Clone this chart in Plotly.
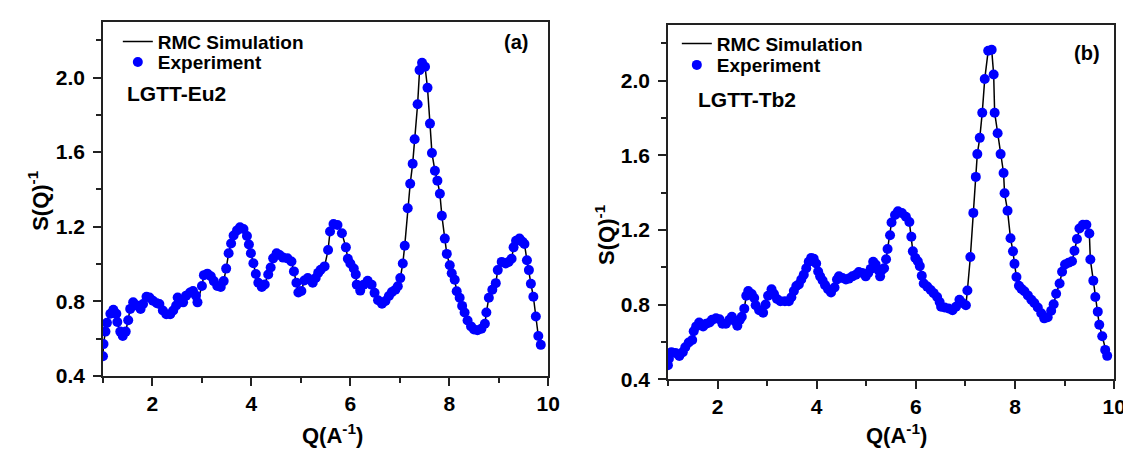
import plotly.graph_objects as go

# ---------------- data ----------------
q_a = [1.00, 1.01, 1.05, 1.08, 1.15, 1.21, 1.27, 1.29, 1.35, 1.40, 1.46, 1.51, 1.55, 1.61, 1.68,
       1.76, 1.81, 1.88, 1.94, 2.01, 2.09, 2.14, 2.21, 2.28, 2.36, 2.42, 2.48, 2.51, 2.58, 2.62,
       2.68, 2.76, 2.82, 2.88, 2.91, 3.00, 3.04, 3.11, 3.18, 3.24, 3.31, 3.38, 3.44, 3.49, 3.54,
       3.59, 3.64, 3.71, 3.77, 3.84, 3.91, 3.95, 3.99, 4.04, 4.09, 4.14, 4.21, 4.27, 4.34, 4.39,
       4.44, 4.51, 4.57, 4.64, 4.73, 4.81, 4.86, 4.91, 4.95, 5.01, 5.07, 5.14, 5.24, 5.30, 5.35,
       5.40, 5.48, 5.55, 5.59, 5.66, 5.74, 5.83, 5.91, 5.95, 6.00, 6.07, 6.11, 6.13, 6.20, 6.27,
       6.35, 6.43, 6.49, 6.56, 6.64, 6.71, 6.78, 6.84, 6.91, 6.96, 7.01, 7.06, 7.10, 7.16, 7.21,
       7.26, 7.30, 7.36, 7.40, 7.45, 7.51, 7.56, 7.61, 7.65, 7.71, 7.76, 7.81, 7.85, 7.91, 7.95,
       8.01, 8.05, 8.11, 8.15, 8.21, 8.26, 8.31, 8.37, 8.44, 8.50, 8.57, 8.65, 8.72, 8.75, 8.80,
       8.87, 8.94, 8.98, 9.06, 9.14, 9.20, 9.26, 9.30, 9.35, 9.42, 9.48, 9.52, 9.57, 9.61, 9.65,
       9.70, 9.75, 9.80, 9.85]
s_a = [0.505, 0.570, 0.637, 0.684, 0.733, 0.754, 0.733, 0.689, 0.637, 0.614, 0.637, 0.698, 0.759, 0.794, 0.777,
       0.759, 0.785, 0.824, 0.820, 0.803, 0.789, 0.785, 0.750, 0.730, 0.730, 0.750, 0.777, 0.820, 0.803, 0.794,
       0.830, 0.847, 0.855, 0.830, 0.794, 0.882, 0.940, 0.948, 0.934, 0.908, 0.882, 0.876, 0.908, 0.975, 1.057,
       1.110, 1.153, 1.180, 1.197, 1.188, 1.150, 1.104, 1.057, 1.004, 0.946, 0.899, 0.876, 0.890, 0.943, 0.981,
       1.030, 1.057, 1.048, 1.034, 1.030, 1.013, 0.960, 0.899, 0.847, 0.855, 0.911, 0.925, 0.899, 0.925, 0.952,
       0.969, 0.987, 1.075, 1.174, 1.214, 1.209, 1.165, 1.089, 1.028, 1.002, 0.976, 0.944, 0.889, 0.857, 0.889,
       0.910, 0.889, 0.845, 0.805, 0.787, 0.801, 0.828, 0.849, 0.862, 0.880, 0.924, 1.002, 1.098, 1.299, 1.430,
       1.538, 1.669, 1.857, 2.040, 2.079, 2.058, 1.945, 1.753, 1.595, 1.500, 1.447, 1.377, 1.259, 1.136, 1.054,
       0.993, 0.950, 0.915, 0.854, 0.819, 0.775, 0.740, 0.697, 0.665, 0.648, 0.644, 0.653, 0.679, 0.740, 0.819,
       0.862, 0.897, 0.967, 1.011, 1.002, 1.011, 1.028, 1.089, 1.124, 1.136, 1.119, 1.107, 1.020, 0.967, 0.894,
       0.824, 0.718, 0.613, 0.566]

q_b = [1.00, 1.02, 1.07, 1.15, 1.23, 1.30, 1.35, 1.42, 1.49, 1.52, 1.57, 1.63, 1.71, 1.77, 1.84,
       1.89, 1.97, 2.04, 2.10, 2.17, 2.24, 2.29, 2.36, 2.40, 2.45, 2.49, 2.54, 2.58, 2.62, 2.69,
       2.74, 2.77, 2.84, 2.92, 2.97, 3.02, 3.09, 3.14, 3.20, 3.27, 3.36, 3.44, 3.49, 3.54, 3.59,
       3.64, 3.69, 3.74, 3.79, 3.84, 3.89, 3.94, 3.99, 4.03, 4.07, 4.12, 4.17, 4.23, 4.29, 4.36,
       4.41, 4.45, 4.52, 4.59, 4.65, 4.72, 4.79, 4.85, 4.92, 4.99, 5.04, 5.09, 5.14, 5.19, 5.24,
       5.28, 5.32, 5.36, 5.40, 5.43, 5.48, 5.51, 5.58, 5.64, 5.72, 5.80, 5.87, 5.91, 5.94, 5.99,
       6.04, 6.08, 6.12, 6.16, 6.23, 6.30, 6.36, 6.43, 6.48, 6.51, 6.58, 6.66, 6.74, 6.81, 6.88,
       6.94, 7.01, 7.04, 7.10, 7.16, 7.21, 7.24, 7.29, 7.34, 7.39, 7.46, 7.53, 7.57, 7.59, 7.65,
       7.71, 7.77, 7.79, 7.85, 7.91, 7.96, 7.99, 8.03, 8.08, 8.13, 8.19, 8.26, 8.33, 8.39, 8.46,
       8.53, 8.59, 8.66, 8.73, 8.78, 8.83, 8.90, 8.95, 9.01, 9.08, 9.15, 9.20, 9.25, 9.30, 9.37,
       9.44, 9.50, 9.52, 9.58, 9.62, 9.67, 9.70, 9.76, 9.82, 9.86]
s_b = [0.475, 0.510, 0.545, 0.541, 0.524, 0.545, 0.571, 0.597, 0.610, 0.657, 0.683, 0.704, 0.683, 0.697, 0.704,
       0.718, 0.726, 0.721, 0.697, 0.697, 0.718, 0.735, 0.709, 0.686, 0.718, 0.735, 0.778, 0.847, 0.873, 0.856,
       0.835, 0.796, 0.770, 0.756, 0.800, 0.847, 0.882, 0.856, 0.830, 0.818, 0.818, 0.818, 0.839, 0.873, 0.899,
       0.908, 0.934, 0.960, 0.994, 1.029, 1.050, 1.046, 1.020, 0.977, 0.951, 0.929, 0.904, 0.882, 0.865, 0.891,
       0.934, 0.951, 0.942, 0.934, 0.939, 0.951, 0.960, 0.974, 0.969, 0.951, 0.969, 0.991, 1.029, 1.015, 0.986,
       0.951, 0.986, 0.994, 1.043, 1.098, 1.171, 1.240, 1.280, 1.300, 1.290, 1.270, 1.242, 1.163, 1.085, 1.050,
       1.032, 1.006, 0.954, 0.913, 0.896, 0.878, 0.861, 0.840, 0.814, 0.788, 0.784, 0.779, 0.770, 0.788, 0.826,
       0.808, 0.796, 0.875, 1.055, 1.291, 1.484, 1.606, 1.693, 1.828, 2.008, 2.160, 2.165, 2.033, 1.828, 1.718,
       1.606, 1.505, 1.396, 1.303, 1.155, 1.085, 1.018, 0.948, 0.901, 0.884, 0.871, 0.849, 0.826, 0.808, 0.784,
       0.753, 0.726, 0.732, 0.767, 0.802, 0.858, 0.913, 0.976, 1.015, 1.024, 1.032, 1.088, 1.151, 1.207, 1.228,
       1.228, 1.181, 1.041, 0.928, 0.840, 0.762, 0.692, 0.630, 0.557, 0.525]

x_major = [2, 4, 6, 8, 10]
x_minor = [1, 3, 5, 7, 9]
y_major = [0.4, 0.8, 1.2, 1.6, 2.0]
y_minor = [0.6, 1.0, 1.4, 1.8, 2.2]

W, H = 1131, 450
FONT = "Liberation Sans"
AXC = "#222222"

fig = go.Figure()
for q, s, xa, ya, lg_line, lg_mark in [(q_a, s_a, "x", "y", "legend", "legend2"),
                                       (q_b, s_b, "x2", "y2", "legend3", "legend4")]:
    fig.add_trace(go.Scatter(x=q, y=s, mode="lines", name="RMC Simulation",
                             line=dict(color="black", width=1.5),
                             xaxis=xa, yaxis=ya, legend=lg_line))
    fig.add_trace(go.Scatter(x=q, y=s, mode="markers", name="Experiment",
                             marker=dict(color="#0000ff", size=10),
                             xaxis=xa, yaxis=ya, legend=lg_mark))

tickfont = dict(family=FONT, size=21, color="black", weight="bold")


def xax(domain, anchor):
    return dict(domain=domain, anchor=anchor, range=[1, 10], tickmode="array",
                tickvals=x_major, ticktext=[str(v) for v in x_major],
                showline=True, mirror=True, linecolor=AXC, linewidth=1.5,
                ticks="outside", ticklen=8, tickwidth=1.5, tickcolor=AXC,
                minor=dict(tickmode="array", tickvals=x_minor, ticks="outside",
                           ticklen=5, tickwidth=1.5, tickcolor=AXC),
                showgrid=False, zeroline=False, tickfont=tickfont)


def yax(domain, anchor):
    return dict(domain=domain, anchor=anchor, range=[0.4, 2.3], tickmode="array",
                tickvals=y_major, ticktext=["%.1f" % v for v in y_major],
                showline=True, mirror=True, linecolor=AXC, linewidth=1.5,
                ticks="outside", ticklen=8, tickwidth=1.5, tickcolor=AXC,
                ticklabelstandoff=4,
                minor=dict(tickmode="array", tickvals=y_minor, ticks="outside",
                           ticklen=5, tickwidth=1.5, tickcolor=AXC),
                showgrid=False, zeroline=False, tickfont=tickfont)


legfont = dict(family=FONT, size=19, color="black", weight="bold")


def leg(xpx, ytop_px):
    return dict(x=xpx / W, y=1 - ytop_px / H, xanchor="left", yanchor="top",
                bgcolor="rgba(0,0,0,0)", font=legfont, itemwidth=30, tracegroupgap=0)


fig.update_layout(
    width=W, height=H, margin=dict(l=0, r=0, t=0, b=0),
    paper_bgcolor="white", plot_bgcolor="white",
    xaxis=xax([96 / W, 546 / W], "y"),
    yaxis=yax([1 - 377 / H, 1 - 14 / H], "x"),
    xaxis2=xax([667 / W, 1118 / W], "y2"),
    yaxis2=yax([1 - 380.5 / H, 1 - 17 / H], "x2"),
    legend=leg(111, 15),
    legend2=leg(111, 36),
    legend3=leg(676, 17),
    legend4=leg(676, 39),
    showlegend=True,
)

ann_font = dict(family=FONT, size=20, color="black")
title_font = dict(family=FONT, size=22, color="black")
annotations = [
    dict(text="<b>(a)</b>", x=513 / W, y=1 - 35 / H, font=ann_font),
    dict(text="<b>(b)</b>", x=1091 / W, y=1 - 46 / H, font=ann_font),
    dict(text="<b>LGTT-Eu2</b>", x=118 / W, y=1 - 88 / H, xanchor="left",
         font=dict(family=FONT, size=21, color="black")),
    dict(text="<b>LGTT-Tb2</b>", x=695 / W, y=1 - 94 / H, xanchor="left",
         font=dict(family=FONT, size=21, color="black")),
    dict(text="<b>Q(A<sup>-1</sup>)</b>", x=328 / W, y=1 - 437 / H, font=title_font),
    dict(text="<b>Q(A<sup>-1</sup>)</b>", x=898 / W, y=1 - 437 / H, font=title_font),
    dict(text="<b>S(Q)<sup>-1</sup></b>", x=31 / W, y=1 - 197 / H, textangle=-90, font=title_font),
    dict(text="<b>S(Q)<sup>-1</sup></b>", x=604 / W, y=1 - 232 / H, textangle=-90, font=title_font),
]
for a in annotations:
    a.update(xref="paper", yref="paper", showarrow=False)
    a.setdefault("xanchor", "center")
    a.setdefault("yanchor", "middle")
fig.update_layout(annotations=annotations)

fig.write_html("out.html")
